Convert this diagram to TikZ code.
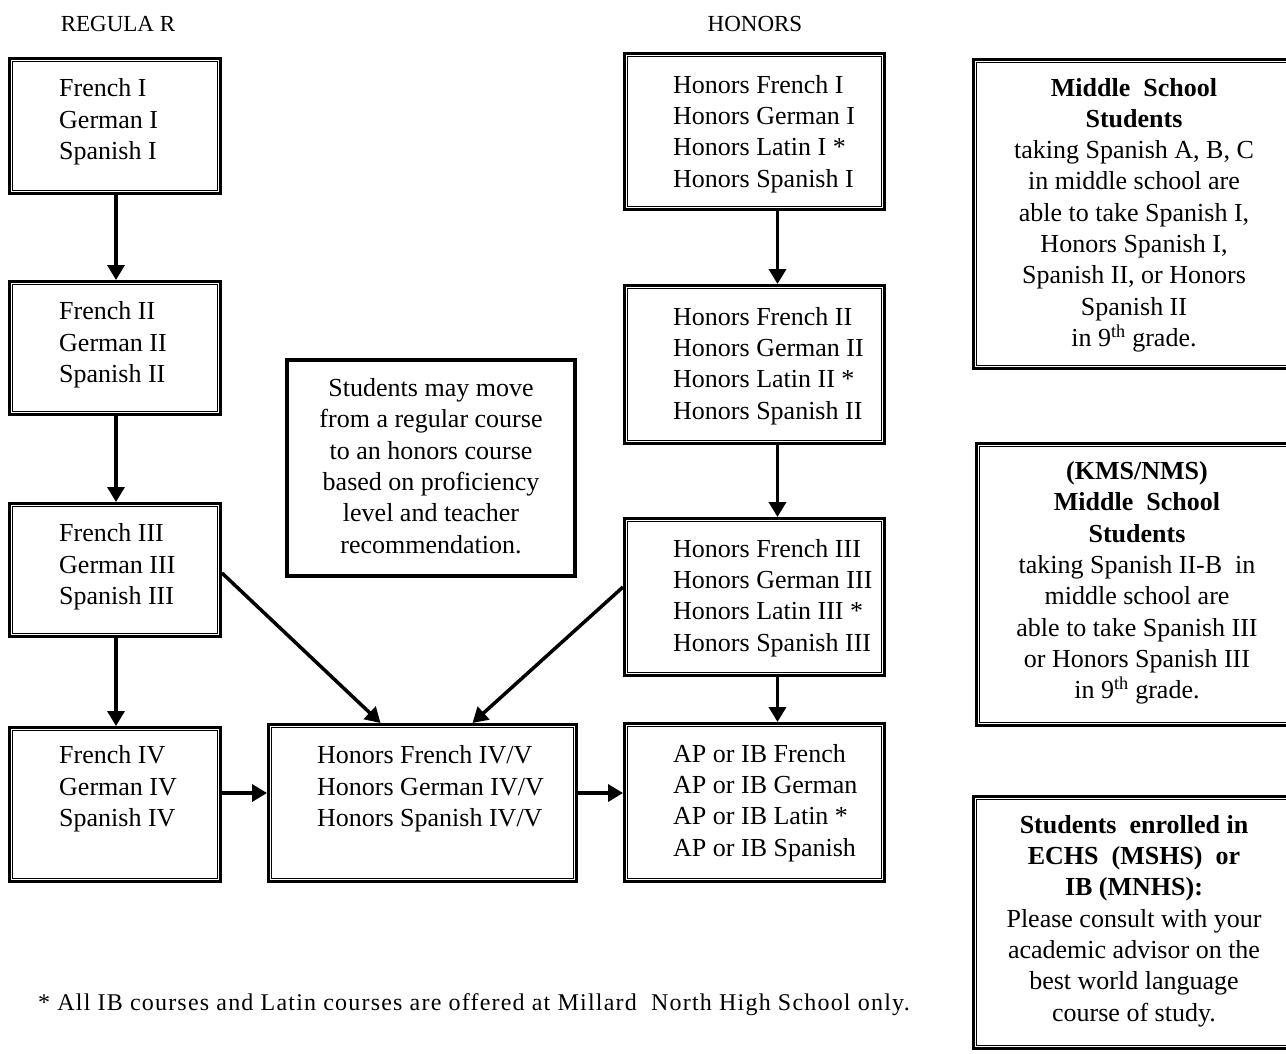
\documentclass[tikz,border=0pt]{standalone}
\usepackage{fontspec}
\setmainfont{Liberation Serif}
\usetikzlibrary{arrows.meta}
\tikzset{
  dblbox/.style={draw, line width=3pt, inner sep=0pt},
  notebox/.style={draw, line width=3.5pt, inner sep=0pt},
  flow/.style={line width=3.5pt, -{Triangle[length=15pt,width=17pt]}},
  coursetxt/.style={anchor=west, align=left, inner sep=0pt, font=\fontsize{26}{31.3}\selectfont},
  sidetxt/.style={align=center, inner sep=0pt, font=\fontsize{26}{31.3}\selectfont},
  headtxt/.style={inner sep=0pt, font=\fontsize{23}{28}\selectfont},
}

\begin{document}
\begin{tikzpicture}[x=1pt, y=-1pt]
  \useasboundingbox (0,0) rectangle (1286,1053);
  \clip (0,0) rectangle (1286,1053);
  % column heads
  \node[headtxt] (reghead) at (118,24) {REGULA R};
  \node[headtxt] (honhead) at (755,24) {HONORS};
  % regular track
  \node[dblbox, minimum width=211, minimum height=135] (reg1) at (115,126) {};
  \node[dblbox, minimum width=211, minimum height=133] (reg2) at (115,348) {};
  \node[dblbox, minimum width=211, minimum height=133] (reg3) at (115,570) {};
  \node[dblbox, minimum width=211, minimum height=154] (reg4) at (115,804.5) {};
  \node[coursetxt] (reg1txt) at (59,122) {French I\\German  I\\Spanish I};
  \node[coursetxt] (reg2txt) at (59,345) {French II\\German  II\\Spanish II};
  \node[coursetxt] (reg3txt) at (59,567) {French III\\German  III\\Spanish III};
  \node[coursetxt] (reg4txt) at (59,789) {French IV\\German  IV\\Spanish IV};
  % honors track
  \node[dblbox, minimum width=260, minimum height=156] (hon1) at (754.5,131.5) {};
  \node[dblbox, minimum width=260, minimum height=158] (hon2) at (754.5,364.5) {};
  \node[dblbox, minimum width=260, minimum height=157] (hon3) at (754.5,597) {};
  \node[dblbox, minimum width=260, minimum height=158] (apib) at (754.5,802.5) {};
  \node[dblbox, minimum width=308, minimum height=157] (hon45) at (422.5,803) {};
  \node[coursetxt] (hon1txt) at (673,134) {Honors French I\\Honors German  I\\Honors Latin I *\\Honors Spanish I};
  \node[coursetxt] (hon2txt) at (673,366) {Honors French II\\Honors German  II\\Honors Latin II *\\Honors Spanish II};
  \node[coursetxt] (hon3txt) at (673,598) {Honors French III\\Honors German  III\\Honors Latin III *\\Honors Spanish III};
  \node[coursetxt] (apibtxt) at (673,803) {AP or IB French\\AP or IB German\\AP or IB Latin *\\AP or IB Spanish};
  \node[coursetxt] (hon45txt) at (317,789) {Honors French IV/V\\Honors German  IV/V\\Honors Spanish IV/V};
  % note in the middle
  \node[notebox, minimum width=288, minimum height=216] (move) at (431,468) {};
  \node[sidetxt] (movetxt) at (431,466) {Students may move\\from a regular course\\to an honors course\\based on proficiency\\level and teacher\\recommendation.};
  % side notes
  \node[dblbox, minimum width=325, minimum height=309] (ms1) at (1136,214) {};
  \node[dblbox, minimum width=322, minimum height=282] (ms2) at (1137.5,584.5) {};
  \node[dblbox, minimum width=325, minimum height=252] (ms3) at (1136,922.5) {};
  \node[sidetxt] (ms1txt) at (1134,215) {\textbf{Middle\ \ School}\\\textbf{Students}\\taking Spanish A, B, C\\in middle school are\\able to take Spanish I,\\Honors Spanish I,\\Spanish II, or Honors\\Spanish II\\in 9\textsuperscript{th} grade.};
  \node[sidetxt] (ms2txt) at (1137,583) {\textbf{(KMS/NMS)}\\\textbf{Middle\ \ School}\\\textbf{Students}\\taking Spanish II-B\ \ in\\middle school are\\able to take Spanish III\\or Honors Spanish III\\in 9\textsuperscript{th} grade.};
  \node[sidetxt] (ms3txt) at (1134,921) {\textbf{Students\ \ enrolled in}\\\textbf{ECHS\ \ (MSHS)\ \ or}\\\textbf{IB (MNHS):}\\Please consult with your\\academic advisor on the\\best world language\\course of study.};
  % inner rule of the double frames
  \foreach \n in {reg1,reg2,reg3,reg4,hon1,hon2,hon3,apib,hon45,ms1,ms2,ms3}
    \draw[line width=1.4pt] ([shift={(4.5,4.5)}]\n.north west) rectangle ([shift={(-4.5,-4.5)}]\n.south east);
  % arrows
  \coordinate (row4) at (0,793);
  \draw[flow] ([xshift=1]reg1.south) -- ([xshift=1]reg2.north);
  \draw[flow] ([xshift=1]reg2.south) -- ([xshift=1]reg3.north);
  \draw[flow] ([xshift=1]reg3.south) -- ([xshift=1]reg4.north);
  \draw[flow] ([xshift=23]hon1.south) -- ([xshift=23]hon2.north);
  \draw[flow] ([xshift=23]hon2.south) -- ([xshift=23]hon3.north);
  \draw[flow] ([xshift=23]hon3.south) -- ([xshift=23]apib.north);
  \draw[flow] (reg4.east |- row4) -- (hon45.west |- row4);
  \draw[flow] (hon45.east |- row4) -- (apib.west |- row4);
  \draw[flow] ([yshift=-3]reg3.east) -- ([xshift=-42]hon45.north);
  \draw[flow] ([yshift=10]hon3.west) -- ([xshift=50]hon45.north);
  % footnote
  \node[headtxt, anchor=west, font=\fontsize{24}{28}\selectfont\addfontfeature{LetterSpace=5}] (foot) at (38,1005) {* All IB courses and Latin courses are offered at Millard\ \ North High School only.};
\end{tikzpicture}
\end{document}
